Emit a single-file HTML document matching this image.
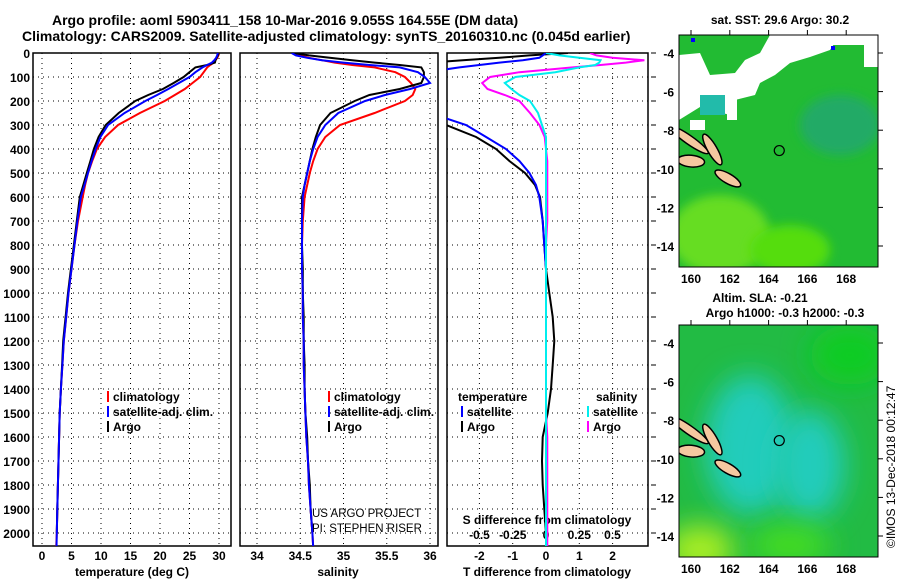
<!DOCTYPE html>
<html><head><meta charset="utf-8"><style>
body{margin:0;background:#fff;}
svg text{font-family:"Liberation Sans",sans-serif;}
</style></head><body>
<svg id="c" width="900" height="580" xmlns="http://www.w3.org/2000/svg">
<defs>
<filter id="bl" x="-50%" y="-50%" width="200%" height="200%"><feGaussianBlur stdDeviation="14"/></filter>
<filter id="bs" x="-50%" y="-50%" width="200%" height="200%"><feGaussianBlur stdDeviation="5"/></filter>
<clipPath id="m1"><rect x="679" y="35" width="199" height="232"/></clipPath>
<clipPath id="m2"><rect x="679" y="325" width="199" height="232"/></clipPath>
<clipPath id="p1"><rect x="33" y="53" width="198" height="493"/></clipPath>
<clipPath id="p2"><rect x="240" y="53" width="198" height="493"/></clipPath>
<clipPath id="p3"><rect x="447" y="53" width="201" height="493"/></clipPath>
</defs>
<text x="52" y="25" font-size="14" font-weight="bold">Argo profile: aoml 5903411_158 10-Mar-2016 9.055S 164.55E (DM data)</text>
<text x="22" y="41" font-size="14" font-weight="bold">Climatology: CARS2009. Satellite-adjusted climatology: synTS_20160310.nc (0.045d earlier)</text>
<g id="g"></g>
</svg>
<script>
const depths = [0,10,20,30,40,50,60,80,100,125,150,175,200,250,300,350,400,450,500,550,600,700,800,900,1000,1100,1200,1300,1400,1500,1600,1700,1800,1900,2000,2060];
const tempArgo = [30,29.8,29.6,29.4,29.3,28,26,25,24,22.3,20.5,18,15.8,13,10.8,9.6,8.8,8.2,7.6,7,6.4,5.9,5.4,4.9,4.4,4,3.6,3.4,3.2,3,2.9,2.8,2.7,2.6,2.5,null];
const tempClim = [30,29.9,29.7,29.4,29.1,28.5,28,27.4,26.8,25.5,24.2,22.5,20.8,16.6,12.9,10.7,9.3,8.5,7.8,7.3,6.9,6.1,5.5,5,4.5,4.1,3.7,3.45,3.2,3,2.9,2.8,2.7,2.6,2.5,2.4];
const tempSat = [29.8,29.7,29.5,29.2,28.8,28,27.2,26,25,23.2,21.4,19.5,17.5,14,11.2,9.9,9.1,8.4,7.8,7.2,6.6,6,5.5,5,4.5,4.1,3.7,3.45,3.2,3,2.9,2.8,2.7,2.6,2.5,2.45];
const salArgo = [34.42,34.6,34.84,35.1,35.36,35.65,35.9,35.93,35.93,35.9,35.65,35.3,35.13,34.85,34.73,34.68,34.64,34.61,34.58,34.55,34.52,34.52,34.52,34.53,34.53,34.54,34.54,34.55,34.55,34.56,34.58,34.59,34.61,34.62,34.64,null];
const salClim = [34.42,34.5,34.6,34.75,34.9,35.1,35.36,35.6,35.71,35.78,35.83,35.8,35.71,35.36,34.96,34.79,34.7,34.65,34.61,34.58,34.55,34.53,34.52,34.52,34.53,34.53,34.54,34.54,34.55,34.56,34.57,34.59,34.6,34.62,34.64,34.65];
const salSat = [34.4,34.45,34.58,34.75,35.0,35.3,35.65,35.86,35.94,36.0,35.77,35.48,35.25,34.94,34.79,34.7,34.65,34.61,34.58,34.55,34.53,34.52,34.52,34.52,34.53,34.53,34.54,34.54,34.55,34.56,34.57,34.59,34.6,34.62,34.64,34.65];
const dTArgo = [0.66,-0.5,-1.4,-2.5,-3.5,-4,-4,-4,-4,-4,-4,-4,-4,-4,-3.0,-2.1,-1.5,-1.1,-0.63,-0.33,-0.18,-0.1,-0.05,0,0.1,0.2,0.25,0.2,0.15,0.05,-0.1,-0.12,-0.1,-0.05,0,null];
const dTSat = [0,-0.1,-0.2,-0.7,-1.4,-2.0,-2.6,-3.6,-4,-4,-4,-4,-4,-3.5,-2.4,-1.8,-1.2,-0.8,-0.5,-0.3,-0.2,-0.1,-0.05,0,0,0,0,0,0,0,0,0,0,0,0,0];
const dSArgo = [0.33,0.38,0.5,0.74,0.6,0.41,0.2,-0.2,-0.42,-0.48,-0.44,-0.31,-0.2,-0.12,-0.05,-0.01,0,0.01,0.01,0.01,0.01,0.01,0,0,0,0,0,0,0,0,0.01,0.01,0.01,0.01,0.01,0.01];
const dSSat = [0,0.1,0.25,0.41,0.4,0.37,0.25,0.07,-0.23,-0.31,-0.26,-0.2,-0.12,-0.06,-0.03,0,0,0,0,0,0,0,0,0,0,0,0,0,0,0,0,0,0,0,0,0];
const yTicks = [0,100,200,300,400,500,600,700,800,900,1000,1100,1200,1300,1400,1500,1600,1700,1800,1900,2000];
const tTicks = [0,5,10,15,20,25,30];
const sTicks = [34,34.5,35,35.5,36];
const dTTicks = [-2,-1,0,1,2];
const dSTicks = [-0.5,-0.25,0,0.25,0.5];
const dSTickLabels = ['-0.5','-0.25','0','0.25','0.5'];
const lonTicks = [160,162,164,166,168];
const latTicks = [-4,-6,-8,-10,-12,-14];
const argoLon = 164.55, argoLat = -9.055;

const NS='http://www.w3.org/2000/svg';
const G=document.getElementById('g');
function el(t,a,p){const e=document.createElementNS(NS,t);for(const k in a)e.setAttribute(k,a[k]);(p||G).appendChild(e);return e;}
const yD = d => 53 + d*0.24;
const xT = v => 42 + v*5.9;
const xS = v => 257 + (v-34)*86.5;
const xDT = v => 546 + v*33.3;
const xDS = v => 546 + v*133;

function panel(x0,w,name){
  const r=el('rect',{x:x0,y:53,width:w,height:493,fill:'none',stroke:'#000','stroke-width':1.5});
  
  
  yTicks.forEach(d=>{const l=el('line',{x1:x0,x2:x0+w,y1:yD(d),y2:yD(d),stroke:'#000','stroke-dasharray':'1,4'});
    
    });
}
function vgrid(xs,f){xs.forEach(v=>{const l=el('line',{x1:f(v),x2:f(v),y1:53,y2:546,stroke:'#000','stroke-dasharray':'1,4'});
  
  });}
function series(vals,f,color,clip,name){
  let d='';vals.forEach((v,i)=>{if(v===null)return;d+=(d?'L':'M')+f(v).toFixed(1)+','+yD(depths[i]).toFixed(1);});
  const p=el('path',{d:d,fill:'none',stroke:color,'stroke-width':2,'clip-path':'url(#'+clip+')'});
  
  
}
function txt(x,y,s,opt,name){const t=el('text',Object.assign({x:x,y:y,'font-size':12,'font-weight':'bold'},opt||{}));t.textContent=s;
  
  return t;}

panel(33,198,'temperature-panel'); vgrid(tTicks,xT);
panel(240,198,'salinity-panel'); vgrid(sTicks,xS);
panel(447,201,'difference-panel'); vgrid(dTTicks,xDT);
yTicks.forEach(d=>{txt(30,yD(d)+5,String(d),{'text-anchor':'end'},'y-tick-label');
  const tk=el('line',{x1:651,x2:656,y1:yD(d),y2:yD(d),stroke:'#000'});
  
  });
tTicks.forEach(v=>txt(xT(v),560,String(v),{'text-anchor':'middle'},'x-tick-temperature'));
sTicks.forEach(v=>txt(xS(v),560,String(v),{'text-anchor':'middle'},'x-tick-salinity'));
dTTicks.forEach(v=>txt(xDT(v),560,String(v),{'text-anchor':'middle'},'x-tick-t-diff'));
dSTicks.forEach((v,i)=>txt(xDS(v),539,dSTickLabels[i],{'text-anchor':'middle'},'x-tick-s-diff'));
txt(132,576,'temperature (deg C)',{'text-anchor':'middle'},'x-axis-title-temperature');
txt(338,576,'salinity',{'text-anchor':'middle'},'x-axis-title-salinity');
txt(547,576,'T difference from climatology',{'text-anchor':'middle'},'x-axis-title-t-diff');
txt(547,524,'S difference from climatology',{'text-anchor':'middle'},'s-diff-title');
txt(312,517,'US ARGO PROJECT',{'font-weight':'normal','font-size':11.5},'credit-project');
txt(312,532,'PI: STEPHEN RISER',{'font-weight':'normal','font-size':11.5},'credit-pi');

series(tempClim,xT,'#f00','p1','temp-climatology-line');
series(tempArgo,xT,'#000','p1','temp-argo-line');
series(tempSat,xT,'#00f','p1','temp-satellite-line');
series(salClim,xS,'#f00','p2','sal-climatology-line');
series(salArgo,xS,'#000','p2','sal-argo-line');
series(salSat,xS,'#00f','p2','sal-satellite-line');
series(dTArgo,xDT,'#000','p3','t-diff-argo-line');
series(dTSat,xDT,'#00f','p3','t-diff-satellite-line');
series(dSArgo,xDS,'#f0f','p3','s-diff-argo-line');
series(dSSat,xDS,'#0ee','p3','s-diff-satellite-line');

function leg(x,y,c,s,name){const m=el('rect',{x:x,y:y-10,width:2,height:11,fill:c});
  
  
  txt(x+6,y,s,{},name);}
leg(107,401,'#f00','climatology','legend-temp-climatology');
leg(107,416,'#00f','satellite-adj. clim.','legend-temp-satellite');
leg(107,431,'#000','Argo','legend-temp-argo');
leg(328,401,'#f00','climatology','legend-sal-climatology');
leg(328,416,'#00f','satellite-adj. clim.','legend-sal-satellite');
leg(328,431,'#000','Argo','legend-sal-argo');
txt(458,401,'temperature',{},'legend-temperature-heading');
txt(596,401,'salinity',{},'legend-salinity-heading');
leg(461,416,'#00f','satellite','legend-t-satellite');
leg(461,431,'#000','Argo','legend-t-argo');
leg(587,416,'#0ee','satellite','legend-s-satellite');
leg(587,431,'#f0f','Argo','legend-s-argo');

const mx = lon => 691 + (lon-160)*19.4;
function map(y0,latY,clip,name,top){
  const g=el('g',{'clip-path':'url(#'+clip+')'});
  
  
  if(top){
    el('rect',{x:679,y:y0,width:199,height:232,fill:'#22bb33'},g);
    el('ellipse',{cx:720,cy:y0+200,rx:50,ry:40,fill:'#66dd22',filter:'url(#bs)'},g);
    el('ellipse',{cx:790,cy:y0+215,rx:40,ry:25,fill:'#55dd11',filter:'url(#bs)'},g);
    el('ellipse',{cx:840,cy:y0+90,rx:40,ry:30,fill:'#22aa66',filter:'url(#bs)'},g);
    el('path',{d:`M679,${y0+20} L700,${y0+18} L710,${y0+40} L735,${y0+38} L745,${y0+25} L760,${y0+18} L770,${y0} L840,${y0} L830,${y0+15} L810,${y0+22} L790,${y0+28} L775,${y0+40} L760,${y0+48} L755,${y0+60} L735,${y0+65} L730,${y0+80} L700,${y0+72} L679,${y0+85} Z`,fill:'#fff'},g);
    el('rect',{x:727,y:y0+55,width:10,height:30,fill:'#fff'},g);
    el('rect',{x:815,y:y0,width:63,height:10,fill:'#fff'},g);
    el('rect',{x:864,y:y0+10,width:14,height:22,fill:'#fff'},g);
    el('rect',{x:690,y:y0+85,width:15,height:10,fill:'#fff'},g);
    el('rect',{x:700,y:y0+60,width:25,height:20,fill:'#22bbaa'},g);
    el('rect',{x:691,y:y0+3,width:4,height:4,fill:'#00f'},g);
    el('rect',{x:831,y:y0+11,width:4,height:4,fill:'#00f'},g);
  } else {
    el('rect',{x:679,y:y0,width:199,height:232,fill:'#22bb44'},g);
    el('ellipse',{cx:750,cy:y0+120,rx:45,ry:70,fill:'#22ccbb',filter:'url(#bl)'},g);
    el('ellipse',{cx:810,cy:y0+140,rx:35,ry:55,fill:'#22ccbb',filter:'url(#bl)'},g);
    el('ellipse',{cx:850,cy:y0+30,rx:40,ry:30,fill:'#11cc22',filter:'url(#bl)'},g);
    el('ellipse',{cx:700,cy:y0+225,rx:35,ry:25,fill:'#aaee22',filter:'url(#bl)'},g);
    el('ellipse',{cx:790,cy:y0+220,rx:40,ry:20,fill:'#44dd22',filter:'url(#bl)'},g);
  }
  const isl=[[159.9,-8.5,1.2,0.12,35],[161.1,-9.0,0.9,0.14,60],[160.0,-9.6,0.7,0.2,5],[161.9,-10.5,0.75,0.15,30]];
  isl.forEach(a=>{const cx=mx(a[0]),cy=latY(a[1]);
    const i=el('ellipse',{cx:cx,cy:cy,rx:a[2]*19.4,ry:a[3]*19.4+2,transform:`rotate(${a[4]} ${cx} ${cy})`,fill:'#f5c8a0',stroke:'#000','stroke-width':1.5},g);
    
    });
  const c=el('circle',{cx:mx(argoLon),cy:latY(argoLat),r:5,fill:'none',stroke:'#000','stroke-width':1.2});
  
  
  const fr=el('rect',{x:679,y:y0,width:199,height:232,fill:'none',stroke:'#000'});
  
  
  latTicks.forEach(l=>{txt(674,latY(l)+5,String(l),{'text-anchor':'end'},'lat-tick-label');
    const a=el('line',{x1:878,x2:883,y1:latY(l),y2:latY(l),stroke:'#000'});
    
    });
  lonTicks.forEach(l=>{txt(mx(l),y0+248,String(l),{'text-anchor':'middle'},'lon-tick-label');
    const a=el('line',{x1:mx(l),x2:mx(l),y1:y0-5,y2:y0,stroke:'#000'});
    
    });
}
map(35,l=>53+(-4-l)*19.3,'m1','sst-map',true);
map(325,l=>343+(-4-l)*19.3,'m2','sla-map',false);
txt(780,24,'sat. SST: 29.6 Argo: 30.2',{'text-anchor':'middle'},'sst-map-title');
txt(760,302,'Altim. SLA: -0.21',{'text-anchor':'middle'},'sla-map-title');
txt(785,317,'Argo h1000: -0.3 h2000: -0.3',{'text-anchor':'middle'},'sla-map-subtitle');
txt(0,0,'©IMOS 13-Dec-2018 00:12:47',{'font-weight':'normal','font-size':12,transform:'translate(895,548) rotate(-90)'},'timestamp-credit');
</script>
</body></html>
